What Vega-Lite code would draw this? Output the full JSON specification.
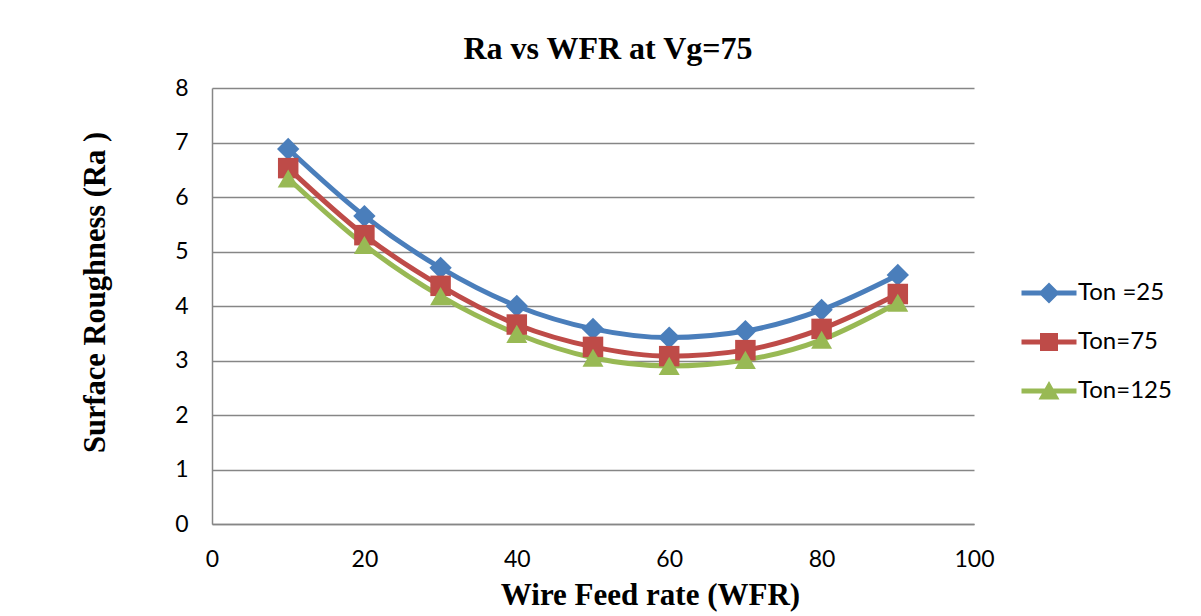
{
  "$schema": "https://vega.github.io/schema/vega-lite/v6.json",
  "width": 762,
  "height": 436,
  "autosize": {"type": "none"},
  "padding": {"left": 212, "top": 88, "right": 227, "bottom": 92},
  "background": "white",
  "title": {"text": "Ra vs WFR at Vg=75", "font": "Liberation Serif", "fontSize": 32, "fontWeight": "bold", "color": "black", "offset": 11, "dx": 15},
  "config": {"view": {"stroke": null}},
  "data": {"values": [
    {"series": "Ton =25", "WFR": 10, "Ra": 6.88},
    {"series": "Ton =25", "WFR": 20, "Ra": 5.65},
    {"series": "Ton =25", "WFR": 30, "Ra": 4.70},
    {"series": "Ton =25", "WFR": 40, "Ra": 4.00},
    {"series": "Ton =25", "WFR": 50, "Ra": 3.58},
    {"series": "Ton =25", "WFR": 60, "Ra": 3.42},
    {"series": "Ton =25", "WFR": 70, "Ra": 3.54},
    {"series": "Ton =25", "WFR": 80, "Ra": 3.93},
    {"series": "Ton =25", "WFR": 90, "Ra": 4.57},
    {"series": "Ton=75", "WFR": 10, "Ra": 6.53},
    {"series": "Ton=75", "WFR": 20, "Ra": 5.30},
    {"series": "Ton=75", "WFR": 30, "Ra": 4.37},
    {"series": "Ton=75", "WFR": 40, "Ra": 3.66},
    {"series": "Ton=75", "WFR": 50, "Ra": 3.25},
    {"series": "Ton=75", "WFR": 60, "Ra": 3.08},
    {"series": "Ton=75", "WFR": 70, "Ra": 3.19},
    {"series": "Ton=75", "WFR": 80, "Ra": 3.58},
    {"series": "Ton=75", "WFR": 90, "Ra": 4.22},
    {"series": "Ton=125", "WFR": 10, "Ra": 6.34},
    {"series": "Ton=125", "WFR": 20, "Ra": 5.12},
    {"series": "Ton=125", "WFR": 30, "Ra": 4.18},
    {"series": "Ton=125", "WFR": 40, "Ra": 3.49},
    {"series": "Ton=125", "WFR": 50, "Ra": 3.05},
    {"series": "Ton=125", "WFR": 60, "Ra": 2.90},
    {"series": "Ton=125", "WFR": 70, "Ra": 3.01},
    {"series": "Ton=125", "WFR": 80, "Ra": 3.38},
    {"series": "Ton=125", "WFR": 90, "Ra": 4.06}
  ]},
  "encoding": {
    "x": {"field": "WFR", "type": "quantitative", "scale": {"domain": [0, 100], "nice": false},
      "axis": {"values": [0, 20, 40, 60, 80, 100], "grid": false, "ticks": false, "domainColor": "#868686", "domainWidth": 1.5, "labelFlush": false,
        "labelFont": "Lato", "labelFontSize": 23, "labelColor": "black", "labelPadding": 24,
        "title": "Wire Feed rate (WFR)", "titleFont": "Liberation Serif", "titleFontSize": 31, "titleFontWeight": "bold", "titleColor": "black", "titlePadding": 9, "titleX": 438}},
    "y": {"field": "Ra", "type": "quantitative", "scale": {"domain": [0, 8], "nice": false},
      "axis": {"values": [0, 1, 2, 3, 4, 5, 6, 7, 8], "grid": true, "gridColor": "#868686", "gridWidth": 1.5, "ticks": false, "domainColor": "#868686", "domainWidth": 1.5, "labelFlush": false,
        "labelFont": "Lato", "labelFontSize": 23, "labelColor": "black", "labelPadding": 24,
        "title": "Surface Roughness (Ra )", "titleFont": "Liberation Serif", "titleFontSize": 30.5, "titleFontWeight": "bold", "titleColor": "black", "titlePadding": 64, "titleY": 204}},
    "color": {"field": "series", "type": "nominal",
      "scale": {"domain": ["Ton =25", "Ton=75", "Ton=125"], "range": ["#4A7EBB", "#BE4B48", "#98B954"]},
      "legend": {"title": null, "orient": "none", "legendX": 812, "legendY": 180, "padding": 0, "rowPadding": 12,
        "symbolSize": 2500, "symbolStrokeWidth": 0, "symbolOpacity": 1, "labelFont": "Lato", "labelFontSize": 24, "labelColor": "black", "labelOffset": 4,
        "encoding": {"symbols": {
          "shape": {"value": {"expr": "datum.value === 'Ton =25' ? 'M-1.1,-0.1L1.1,-0.1L1.1,0.1L-1.1,0.1Z M0,-0.42L0.42,0L0,0.42L-0.42,0Z' : (datum.value === 'Ton=75' ? 'M-1.1,-0.1L1.1,-0.1L1.1,0.1L-1.1,0.1Z M-0.36,-0.36L0.36,-0.36L0.36,0.36L-0.36,0.36Z' : 'M-1.1,-0.1L1.1,-0.1L1.1,0.1L-1.1,0.1Z M0,-0.4L0.42,0.34L-0.42,0.34Z')"}}
        }}}}
  },
  "layer": [
    {"mark": {"type": "line", "interpolate": "monotone", "strokeWidth": 5}},
    {"transform": [{"filter": "datum.series === 'Ton =25'"}],
      "mark": {"type": "point", "filled": true, "opacity": 1, "size": 500, "shape": "diamond"}},
    {"transform": [{"filter": "datum.series === 'Ton=75'"}],
      "mark": {"type": "point", "filled": true, "opacity": 1, "size": 420, "shape": "square"}},
    {"transform": [{"filter": "datum.series === 'Ton=125'"}],
      "mark": {"type": "point", "filled": true, "opacity": 1, "size": 440, "shape": "triangle-up"}}
  ]
}
